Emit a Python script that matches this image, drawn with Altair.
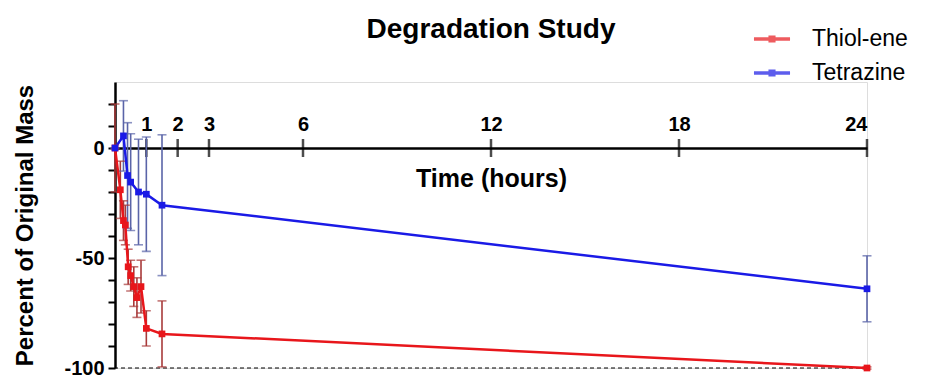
import altair as alt
import pandas as pd

# ---- data ----
series_names = ["Thiol-ene", "Tetrazine"]

thiol_t = [0, 0.17, 0.27, 0.33, 0.42, 0.5, 0.6, 0.7, 0.83, 1.0, 1.5, 24]
thiol_v = [0, -19, -33, -35, -54, -58, -63, -68, -63, -82, -84.5, -100]
thiol_e = [20, 13, 9, 9, 8, 7, 9, 9, 12, 8, 15, 0.5]

tetra_t = [0, 0.27, 0.4, 0.5, 0.75, 1.0, 1.5, 24]
tetra_v = [0, 5.5, -12.5, -15.5, -20, -21, -26, -64]
tetra_e = [0, 16, 24, 22, 24, 26, 32, 15]

x_ticks = [1, 2, 3, 6, 12, 18, 24]
y_ticks = [-100, -90, -80, -70, -60, -50, -40, -30, -20, -10, 0, 10, 20]

line_colors = ["#e8161b", "#1a1ae6"]
err_colors = ["#a83a3a", "#5a64a8"]

rows = []
for name, ts, vs, es, ec in [
    (series_names[0], thiol_t, thiol_v, thiol_e, err_colors[0]),
    (series_names[1], tetra_t, tetra_v, tetra_e, err_colors[1]),
]:
    for t, v, e in zip(ts, vs, es):
        rows.append({"series": name, "t": t, "v": v, "lo": v - e, "hi": v + e, "ecol": ec})
df = pd.DataFrame(rows)

FONT = "Liberation Sans"
W, H = 752, 286
Y_MIN, Y_MAX = -100, 30
zero_offset = -(Y_MAX / (Y_MAX - Y_MIN)) * H

xscale = alt.Scale(domain=[0, 24], nice=False, zero=False)
yscale = alt.Scale(domain=[Y_MIN, Y_MAX], nice=False, zero=False)

x_axis = alt.Axis(
    orient="top",
    offset=zero_offset,
    values=x_ticks,
    ticks=False,
    grid=False,
    domainColor="black",
    domainWidth=2.5,
    labelFont=FONT,
    labelFontSize=20,
    labelFontWeight="bold",
    labelColor="black",
    labelPadding=14,
    labelOverlap=False,
    title="Time (hours)",
    titleFont=FONT,
    titleFontSize=25,
    titleFontWeight="bold",
    titleColor="black",
    titleX=W / 2,
    titleY=30,
    titleAlign="center",
    titleBaseline="middle",
)
y_axis = alt.Axis(
    values=y_ticks,
    labelExpr="datum.value % 50 == 0 ? toString(datum.value) : ''",
    labelOverlap=False,
    grid=False,
    domainColor="black",
    domainWidth=2.5,
    tickColor="black",
    tickWidth=2,
    tickSize=7,
    labelFont=FONT,
    labelFontSize=20,
    labelFontWeight="bold",
    labelColor="black",
    labelPadding=4,
    title="Percent of Original Mass",
    titleFont=FONT,
    titleFontSize=24,
    titleFontWeight="bold",
    titleColor="black",
    titlePadding=26,
)

base = alt.Chart(df)

err_rule = base.mark_rule(strokeWidth=1.6).encode(
    x=alt.X("t:Q", scale=xscale, axis=x_axis),
    y=alt.Y("lo:Q", scale=yscale, axis=y_axis),
    y2="hi:Q",
    color=alt.Color("ecol:N", scale=None),
)
err_cap_lo = base.mark_tick(orient="horizontal", size=9, thickness=1.6).encode(
    x=alt.X("t:Q", scale=xscale, axis=x_axis),
    y=alt.Y("lo:Q", scale=yscale, axis=y_axis),
    color=alt.Color("ecol:N", scale=None),
)
err_cap_hi = base.mark_tick(orient="horizontal", size=9, thickness=1.6).encode(
    x=alt.X("t:Q", scale=xscale, axis=x_axis),
    y=alt.Y("hi:Q", scale=yscale, axis=y_axis),
    color=alt.Color("ecol:N", scale=None),
)

lines = base.mark_line(
    strokeWidth=2.5,
    opacity=1,
    point=alt.OverlayMarkDef(shape="square", size=45, filled=True, opacity=1),
).encode(
    x=alt.X("t:Q", scale=xscale, axis=x_axis),
    y=alt.Y("v:Q", scale=yscale, axis=y_axis),
    color=alt.Color(
        "series:N",
        scale=alt.Scale(domain=series_names, range=line_colors),
        legend=alt.Legend(
            title=None,
            orient="none",
            legendX=637,
            legendY=-63,
            labelFont=FONT,
            labelFontSize=23,
            labelColor="black",
            labelOffset=20,
            rowPadding=2,
            symbolType="M-1,0H1M-0.1,-0.1H0.1V0.1H-0.1Z",
            symbolSize=1300,
            symbolStrokeWidth=3.5,
            symbolOpacity=1,
        ),
    ),
    order=alt.Order("t:Q"),
)

dash = alt.Chart(pd.DataFrame({"y": [-100]})).mark_rule(
    strokeDash=[4, 3], color="black", strokeWidth=1
).encode(y=alt.Y("y:Q", scale=yscale, axis=y_axis))

xtick_marks = alt.Chart(pd.DataFrame({"t": x_ticks, "z": [0] * len(x_ticks)})).mark_tick(
    orient="vertical", size=18, thickness=2.5, color="black"
).encode(
    x=alt.X("t:Q", scale=xscale, axis=x_axis),
    y=alt.Y("z:Q", scale=yscale, axis=y_axis),
)

chart = (
    alt.layer(dash, xtick_marks, err_rule, err_cap_lo, err_cap_hi, lines)
    .properties(
        width=W,
        height=H,
        title=alt.TitleParams(
            "Degradation Study",
            font=FONT,
            fontSize=28,
            fontWeight="bold",
            color="black",
            anchor="middle",
            frame="group",
            offset=0,
            dy=25,
        ),
        autosize=alt.AutoSizeParams(type="none"),
        padding={"left": 107, "top": 74, "right": 50, "bottom": 10},
    )
    .configure_view(stroke=None)
    .configure(background="white")
)

chart.save("out.html", embed_options={"renderer": "svg", "actions": False})
